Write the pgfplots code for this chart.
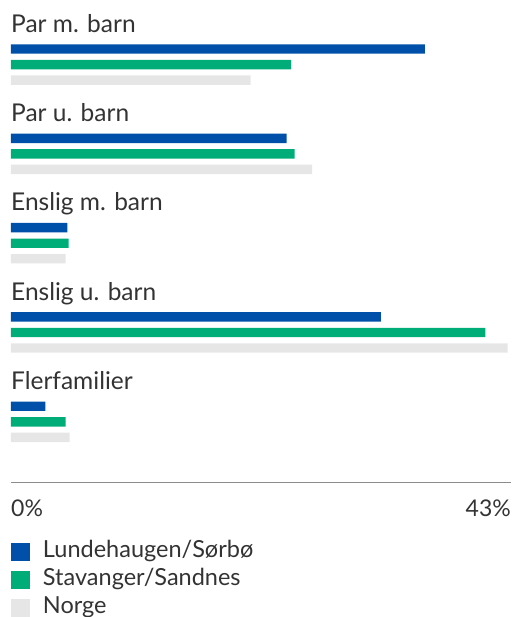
\documentclass[border=0pt]{standalone}
\usepackage{pgfplots}
\pgfplotsset{compat=1.18}
\usepackage{fontspec}
\setmainfont{Lato}
\definecolor{cblue}{HTML}{0050AA}
\definecolor{cgreen}{HTML}{00AD78}
\definecolor{cgray}{HTML}{E6E6E6}
\definecolor{ctext}{HTML}{333333}
\definecolor{caxis}{HTML}{8C8C8C}
\begin{document}
\begin{tikzpicture}
\path (-11bp,0bp) rectangle (501bp,-617bp);
\begin{axis}[
  at={(0bp,0bp)}, anchor=north west,
  scale only axis, width=500bp, height=482bp,
  xmin=0, xmax=43, ymin=-482, ymax=0,
  hide y axis,
  axis x line*=bottom,
  x axis line style={draw=caxis, line width=0.8bp, -},
  xtick=\empty,
  clip=false,
  legend style={draw=none, fill=none, at={(rel axis cs:0,0)}, anchor=north west,
    yshift=-61bp, inner sep=0pt, outer sep=0pt,
    nodes={inner sep=0pt, text height=14bp, text depth=4bp, text=ctext,
      font=\fontsize{23.5bp}{27bp}\selectfont},
    row sep=10bp, column sep=13bp},
  legend cell align=left,
  legend image code/.code={\fill (0bp,-9bp) rectangle (19bp,9bp);},
]
\addplot[xbar, bar shift=0pt, bar width=9.4bp, fill=cblue, draw=none]
  coordinates {(35.6,-49) (23.7,-138.3) (4.85,-227.6) (31.8,-316.9) (2.95,-406.2)};
\addplot[xbar, bar shift=0pt, bar width=9.4bp, fill=cgreen, draw=none]
  coordinates {(24.1,-64.6) (24.4,-153.9) (4.95,-243.2) (40.8,-332.5) (4.7,-421.8)};
\addplot[xbar, bar shift=0pt, bar width=9.4bp, fill=cgray, draw=none]
  coordinates {(20.6,-80.1) (25.9,-169.4) (4.7,-258.7) (42.7,-348) (5.05,-437.3)};
\legend{Lundehaugen/Sørbø, Stavanger/Sandnes, Norge}
\begin{scope}[every node/.style={anchor=base west, inner sep=0pt, text=ctext, font=\fontsize{24.5bp}{28bp}\selectfont}]
\node[yshift=16.7bp] at (axis cs:0,-49) {Par m. barn};
\node[yshift=16.7bp] at (axis cs:0,-138.3) {Par u. barn};
\node[yshift=16.7bp] at (axis cs:0,-227.6) {Enslig m. barn};
\node[yshift=16.7bp] at (axis cs:0,-316.9) {Enslig u. barn};
\node[yshift=16.7bp] at (axis cs:0,-406.2) {Flerfamilier};
\end{scope}
\node[anchor=base west, inner sep=0pt, text=ctext, font=\fontsize{23bp}{27bp}\selectfont, yshift=-34bp] at (rel axis cs:0,0) {0\%};
\node[anchor=base east, inner sep=0pt, text=ctext, font=\fontsize{23bp}{27bp}\selectfont, yshift=-34bp] at (rel axis cs:1,0) {43\%};
\end{axis}
\end{tikzpicture}
\end{document}
